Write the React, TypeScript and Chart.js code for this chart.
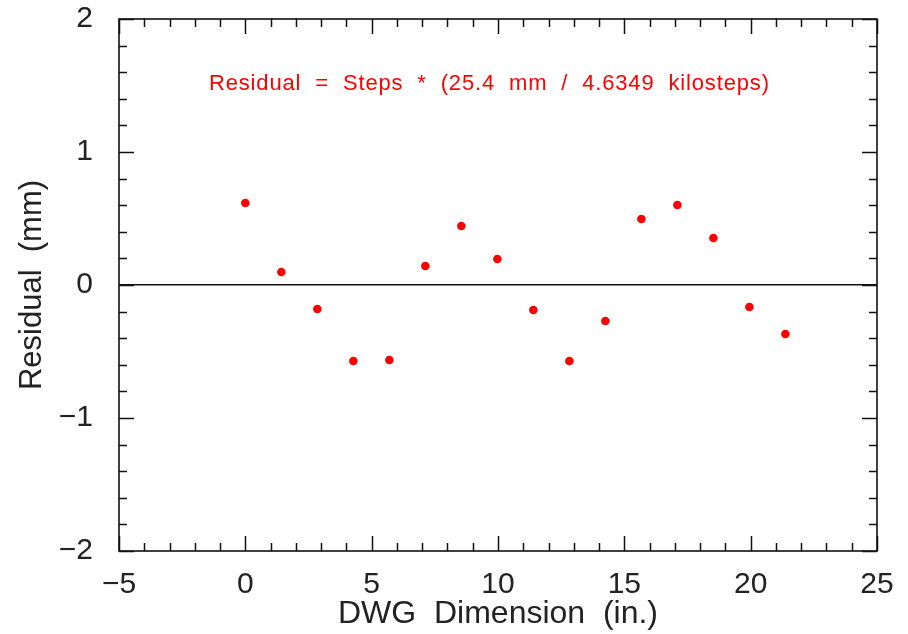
import React, { useEffect, useRef } from "react";
import { Chart, registerables } from "chart.js";

Chart.register(...registerables);

const xValues = [0, 1.425, 2.85, 4.275, 5.7, 7.125, 8.55, 9.975, 11.4, 12.825, 14.25, 15.675, 17.1, 18.525, 19.95, 21.375];
const yValues = [0.617, 0.098, -0.18, -0.571, -0.564, 0.143, 0.444, 0.195, -0.188, -0.571, -0.271, 0.496, 0.602, 0.353, -0.165, -0.368];

const X_MIN = -5;
const X_MAX = 25;
const X_MAJOR = 5;
const X_MINOR = 1;
const Y_MIN = -2;
const Y_MAX = 2;
const Y_MAJOR = 1;
const Y_MINOR = 0.2;

const X_TITLE = "DWG  Dimension  (in.)";
const Y_TITLE = "Residual  (mm)";
const ANNOTATION = "Residual  =  Steps  *  (25.4  mm  /  4.6349  kilosteps)";
const ANNOT_X = 9.66;
const ANNOT_Y = 1.51;

const FONT = "'Liberation Sans', Arial, sans-serif";
const INK = "#222";

const framePlugin = {
  id: "frame",
  afterDraw(chart: any) {
    const { ctx, chartArea, scales } = chart;
    const xs = scales.x;
    const ys = scales.y;
    const { left, right, top, bottom } = chartArea;
    ctx.save();
    ctx.strokeStyle = "#111";
    ctx.lineWidth = 1.6;
    ctx.strokeRect(left, top, right - left, bottom - top);
    ctx.lineWidth = 1.5;
    ctx.beginPath();
    const nx = Math.round((X_MAX - X_MIN) / X_MINOR);
    for (let i = 0; i <= nx; i++) {
      const v = X_MIN + i * X_MINOR;
      const major = Math.abs(v / X_MAJOR - Math.round(v / X_MAJOR)) < 1e-6;
      const len = major ? 15 : 8;
      const px = Math.round(xs.getPixelForValue(v)) + 0.5;
      ctx.moveTo(px, bottom);
      ctx.lineTo(px, bottom - len);
      ctx.moveTo(px, top);
      ctx.lineTo(px, top + len);
    }
    const ny = Math.round((Y_MAX - Y_MIN) / Y_MINOR);
    for (let i = 0; i <= ny; i++) {
      const v = Y_MIN + i * Y_MINOR;
      const major = Math.abs(v / Y_MAJOR - Math.round(v / Y_MAJOR)) < 1e-6;
      const len = major ? 15 : 8;
      const py = Math.round(ys.getPixelForValue(v)) + 0.5;
      ctx.moveTo(left, py);
      ctx.lineTo(left + len, py);
      ctx.moveTo(right, py);
      ctx.lineTo(right - len, py);
    }
    ctx.stroke();
    ctx.fillStyle = "#ff0000";
    ctx.font = "22px " + FONT;
    try {
      (ctx as any).letterSpacing = "0.85px";
    } catch (e) {}
    ctx.textAlign = "center";
    ctx.textBaseline = "middle";
    ctx.fillText(ANNOTATION, xs.getPixelForValue(ANNOT_X), ys.getPixelForValue(ANNOT_Y));
    ctx.restore();
  },
};

export default function App() {
  const canvasRef = useRef<HTMLCanvasElement | null>(null);

  useEffect(() => {
    if (!canvasRef.current) return;
    const chart = new Chart(canvasRef.current, {
      type: "scatter",
      data: {
        datasets: [
          {
            data: xValues.map((x, i) => ({ x, y: yValues[i] })),
            pointRadius: 4.3,
            pointHoverRadius: 4.3,
            pointBackgroundColor: "#ff0000",
            pointBorderWidth: 0,
            showLine: false,
          },
        ],
      },
      options: {
        animation: false,
        responsive: true,
        maintainAspectRatio: false,
        layout: { padding: { left: 0, top: 19, right: 31, bottom: 0 } },
        plugins: { legend: { display: false }, tooltip: { enabled: false } },
        scales: {
          x: {
            type: "linear",
            min: X_MIN,
            max: X_MAX,
            afterFit: (s: any) => {
              s.height = 83;
              s.paddingLeft = 0;
              s.paddingRight = 0;
            },
            ticks: {
              stepSize: X_MAJOR,
              color: INK,
              font: { family: FONT, size: 30 },
              padding: 16,
              maxRotation: 0,
              callback: (v: any) => (Number(v) < 0 ? "\u2212" + Math.abs(Number(v)) : String(v)),
            },
            grid: { display: false, drawTicks: false },
            border: { display: false },
            title: {
              display: true,
              text: X_TITLE,
              color: INK,
              font: { family: FONT, size: 32 },
              padding: { top: 0, bottom: 1 },
            },
          },
          y: {
            type: "linear",
            min: Y_MIN,
            max: Y_MAX,
            afterFit: (s: any) => {
              s.width = 119;
              s.paddingTop = 0;
              s.paddingBottom = 0;
            },
            ticks: {
              stepSize: Y_MAJOR,
              color: INK,
              font: { family: FONT, size: 30 },
              padding: 26,
              callback: (v: any) => (Number(v) < 0 ? "\u2212" + Math.abs(Number(v)) : String(v)),
            },
            grid: {
              drawTicks: false,
              lineWidth: 1.5,
              color: (c: any) => (c.tick && c.tick.value === 0 ? "#111" : "rgba(0,0,0,0)"),
            },
            border: { display: false },
            title: {
              display: true,
              text: Y_TITLE,
              color: INK,
              font: { family: FONT, size: 31 },
              padding: { top: 14, bottom: 0 },
            },
          },
        },
      },
      plugins: [framePlugin],
    });
    return () => chart.destroy();
  }, []);

  return (
    <div style={{ position: "absolute", left: 0, top: 0, width: 908, height: 634, background: "#fff" }}>
      <canvas ref={canvasRef} />
    </div>
  );
}
